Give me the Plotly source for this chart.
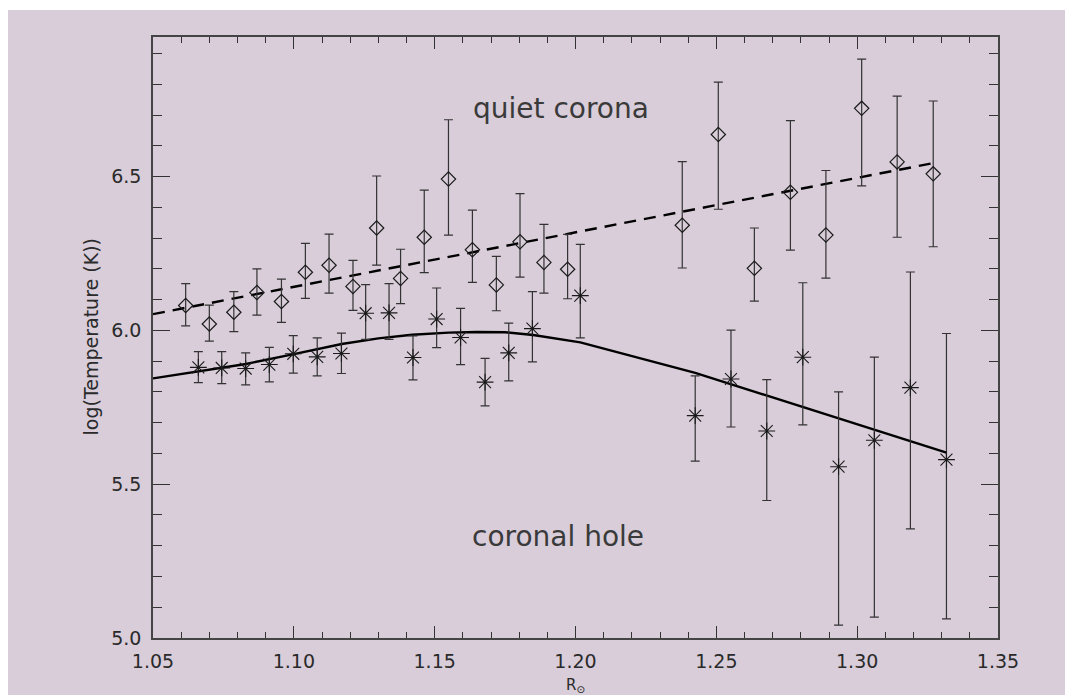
import plotly.graph_objects as go

# ---- quiet corona (diamonds) ----
qc_r = [1.0616, 1.0700, 1.0787, 1.0869, 1.0956, 1.1041, 1.1125, 1.1210, 1.1294, 1.1379,
        1.1463, 1.1549, 1.1634, 1.1719, 1.1803, 1.1888, 1.1972,
        1.2379, 1.2507, 1.2635, 1.2763, 1.2889, 1.3016, 1.3142, 1.3270]
qc_t = [6.081, 6.021, 6.059, 6.123, 6.094, 6.189, 6.212, 6.143, 6.333, 6.169,
        6.303, 6.492, 6.262, 6.148, 6.288, 6.221, 6.199,
        6.342, 6.637, 6.202, 6.449, 6.310, 6.722, 6.548, 6.509]
qc_hi = [6.152, 6.082, 6.126, 6.200, 6.167, 6.283, 6.313, 6.228, 6.502, 6.264,
         6.456, 6.685, 6.391, 6.241, 6.445, 6.345, 6.312,
         6.549, 6.807, 6.333, 6.682, 6.520, 6.882, 6.762, 6.746]
qc_lo = [6.015, 5.965, 5.996, 6.050, 6.026, 6.104, 6.121, 6.065, 6.212, 6.087,
         6.188, 6.310, 6.156, 6.064, 6.173, 6.121, 6.103,
         6.203, 6.394, 6.095, 6.261, 6.170, 6.470, 6.303, 6.272]

# ---- coronal hole (asterisks) ----
ch_r = [1.0661, 1.0744, 1.0829, 1.0913, 1.0998, 1.1083, 1.1169, 1.1255, 1.1338, 1.1423,
        1.1507, 1.1592, 1.1679, 1.1763, 1.1847, 1.2017,
        1.2425, 1.2552, 1.2679, 1.2807, 1.2934, 1.3061, 1.3189, 1.3317]
ch_t = [5.880, 5.878, 5.876, 5.889, 5.924, 5.914, 5.925, 6.056, 6.057, 5.912,
        6.037, 5.977, 5.832, 5.927, 6.006, 6.113,
        5.723, 5.842, 5.673, 5.913, 5.557, 5.643, 5.814, 5.580]
ch_hi = [5.931, 5.931, 5.927, 5.945, 5.983, 5.976, 5.991, 6.149, 6.152, 5.982,
         6.138, 6.072, 5.909, 6.024, 6.126, 6.280,
         5.852, 6.001, 5.840, 6.155, 5.800, 5.913, 6.190, 5.990]
ch_lo = [5.830, 5.827, 5.823, 5.833, 5.861, 5.852, 5.860, 5.971, 5.971, 5.839,
         5.944, 5.889, 5.755, 5.836, 5.898, 5.976,
         5.575, 5.686, 5.447, 5.693, 5.042, 5.068, 5.355, 5.062]

# ---- model curves ----
qc_model_r = [1.050, 1.3265]
qc_model_t = [6.053, 6.543]
ch_model_r = [1.050, 1.066, 1.083, 1.100, 1.117, 1.130, 1.142, 1.155, 1.165, 1.175,
              1.185, 1.2017, 1.2425, 1.3317]
ch_model_t = [5.844, 5.866, 5.891, 5.923, 5.956, 5.974, 5.986, 5.993, 5.995, 5.994,
              5.985, 5.961, 5.862, 5.603]

x_ticks = [1.05, 1.10, 1.15, 1.20, 1.25, 1.30, 1.35]
y_ticks = [5.0, 5.5, 6.0, 6.5]

BG = "#d8cdd9"
INK = "#1a1a1a"
FONT = "DejaVu Sans"

fig = go.Figure()

fig.add_trace(go.Scatter(
    x=qc_model_r, y=qc_model_t, mode="lines",
    line=dict(color="black", width=2.4, dash="12px,8px"), showlegend=False))
fig.add_trace(go.Scatter(
    x=ch_model_r, y=ch_model_t, mode="lines",
    line=dict(color="black", width=2.4), showlegend=False))

fig.add_trace(go.Scatter(
    x=qc_r, y=qc_t, mode="markers",
    marker=dict(symbol="diamond-open", size=11, color=INK, line=dict(width=1.2, color=INK)),
    error_y=dict(type="data", symmetric=False,
                 array=[h - v for h, v in zip(qc_hi, qc_t)],
                 arrayminus=[v - l for v, l in zip(qc_t, qc_lo)],
                 color="#333333", thickness=1.2, width=4.5),
    showlegend=False))

fig.add_trace(go.Scatter(
    x=ch_r, y=ch_t, mode="markers",
    marker=dict(symbol="asterisk-open", size=14, color=INK, line=dict(width=1.1, color=INK)),
    error_y=dict(type="data", symmetric=False,
                 array=[h - v for h, v in zip(ch_hi, ch_t)],
                 arrayminus=[v - l for v, l in zip(ch_t, ch_lo)],
                 color="#333333", thickness=1.2, width=4.5),
    showlegend=False))

axis_common = dict(
    showgrid=False, zeroline=False, showline=True, linecolor="#444444", linewidth=1.5,
    mirror="allticks", ticks="inside", tickcolor="#333333", tickwidth=1.2,
    tickfont=dict(family=FONT, size=19, color="#2a2a2a"),
)

fig.update_xaxes(
    range=[1.05, 1.35], tickvals=x_ticks, ticktext=[f"{v:.2f}" for v in x_ticks],
    ticklen=12,
    minor=dict(dtick=0.01, tick0=1.05, ticklen=6, ticks="inside", tickcolor="#333333", tickwidth=1.2),
    ticklabelstandoff=5,
    **axis_common)
fig.update_yaxes(
    range=[5.0, 6.954], tickvals=y_ticks, ticktext=[f"{v:.1f}" for v in y_ticks],
    ticklen=17,
    minor=dict(dtick=0.1, tick0=5.0, ticklen=9, ticks="inside", tickcolor="#333333", tickwidth=1.2),
    ticklabelstandoff=6,
    **axis_common)

# purple page background (white strip on top and left)
fig.add_shape(type="rect", xref="paper", yref="paper",
              x0=(8 - 153) / 845, x1=(1065 - 153) / 845,
              y0=(638 - 700) / 601, y1=(638 - 10) / 601,
              fillcolor=BG, line=dict(width=0), layer="below")

fig.add_annotation(x=1.1949, y=6.723, xref="x", yref="y", text="quiet corona",
                   showarrow=False, font=dict(family=FONT, size=28, color="#3a3a3a"))
fig.add_annotation(x=1.1939, y=5.33, xref="x", yref="y", text="coronal hole",
                   showarrow=False, font=dict(family=FONT, size=28, color="#3a3a3a"))
fig.add_annotation(x=(90 - 153) / 845, y=0.5, xref="paper", yref="paper",
                   text="log(Temperature (K))", textangle=-90, showarrow=False,
                   xanchor="center", yanchor="middle",
                   font=dict(family=FONT, size=19, color="#2a2a2a"))
fig.add_annotation(x=0.5, y=(638 - 675) / 601, xref="paper", yref="paper",
                   text="R<sub>\u2299</sub>", showarrow=False,
                   xanchor="center", yanchor="top", borderpad=0,
                   font=dict(family=FONT, size=15, color="#2a2a2a"))

fig.update_layout(
    width=1065, height=695,
    margin=dict(l=153, r=67, t=37, b=57, pad=0),
    paper_bgcolor="white", plot_bgcolor=BG,
    showlegend=False,
)

fig.write_html("out.html")
